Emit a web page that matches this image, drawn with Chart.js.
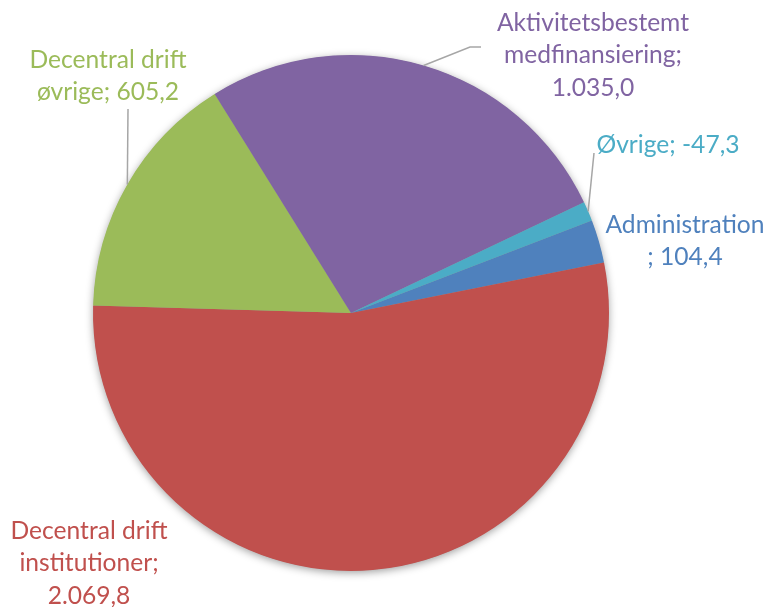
<!DOCTYPE html>
<html>
<head>
<meta charset="utf-8">
<script src="https://cdn.jsdelivr.net/npm/chart.js@4/dist/chart.umd.min.js"></script>
<style>
  html, body { margin: 0; padding: 0; background: #ffffff; }
  #wrap { width: 766px; height: 607px; }
</style>
</head>
<body>
<div id="wrap"><canvas id="c" width="766" height="607"></canvas></div>
<script>
// ---- Data ----
const categories = [
  "Administration",
  "Decentral drift institutioner",
  "Decentral drift øvrige",
  "Aktivitetsbestemt medfinansiering",
  "Øvrige"
];
const values = [104.4, 2069.8, 605.2, 1035.0, -47.3];
const sliceColors = ["#4F81BD", "#C0504D", "#9BBB59", "#8064A2", "#4BACC6"];

// ---- Label layout (annotation placement) ----
const labelLayout = [
  { x: 685, y: 225, maxChars: 14, leader: null },
  { x: 89,  y: 531, maxChars: 15, leader: null },
  { x: 108, y: 60,  maxChars: 15, leader: [[128, 109]] },
  { x: 593, y: 23,  maxChars: 17, leader: [[470, 47], [481, 47]] },
  { x: 668, y: 145, maxChars: 15, leader: [[594, 153]] }
];
const FONT_FAMILY = "Lato, 'Open Sans', sans-serif";
const FONT_SIZE = 24.6;
const LINE_H = 32.5;

function fmtDa(v) {
  const neg = v < 0;
  const s = Math.abs(v).toFixed(1);
  let [ip, dp] = s.split('.');
  ip = ip.replace(/\B(?=(\d{3})+(?!\d))/g, '.');
  return (neg ? '-' : '') + ip + ',' + dp;
}

function wrapLabel(cat, val, maxChars) {
  const tokens = cat.split(' ').map((w, i) => ({ t: w, glue: i === 0 ? '' : ' ' }));
  tokens.push({ t: ';', glue: '' });
  tokens.push({ t: fmtDa(val), glue: ' ' });
  const lines = [];
  let cur = '';
  tokens.forEach(tok => {
    if (cur === '') { cur = tok.t; return; }
    const cand = cur + tok.glue + tok.t;
    if (cand.length > maxChars) { lines.push(cur); cur = tok.t; }
    else cur = cand;
  });
  if (cur) lines.push(cur);
  return lines.map(l => l.replace(/^;(?=\S)/, '; '));
}

const shadowPlugin = {
  id: 'pieShadow',
  beforeDatasetsDraw(chart) {
    const arc = chart.getDatasetMeta(0).data[0];
    if (!arc) return;
    const { x, y, outerRadius } = arc.getProps(['x', 'y', 'outerRadius'], true);
    const ctx = chart.ctx;
    ctx.save();
    ctx.shadowColor = 'rgba(0,0,0,0.40)';
    ctx.shadowBlur = 9;
    ctx.shadowOffsetX = 0;
    ctx.shadowOffsetY = 2;
    ctx.beginPath();
    ctx.arc(x, y, outerRadius - 0.5, 0, Math.PI * 2);
    ctx.fillStyle = '#999999';
    ctx.fill();
    ctx.restore();
  }
};

const labelPlugin = {
  id: 'outsideLabels',
  afterDatasetsDraw(chart) {
    const ctx = chart.ctx;
    const meta = chart.getDatasetMeta(0);
    ctx.save();
    meta.data.forEach((arc, i) => {
      const lay = labelLayout[i];
      const p = arc.getProps(['x', 'y', 'startAngle', 'endAngle', 'outerRadius'], true);
      if (lay.leader) {
        const mid = (p.startAngle + p.endAngle) / 2;
        const sx = p.x + Math.cos(mid) * p.outerRadius;
        const sy = p.y + Math.sin(mid) * p.outerRadius;
        ctx.beginPath();
        ctx.moveTo(sx, sy);
        lay.leader.forEach(pt => ctx.lineTo(pt[0], pt[1]));
        ctx.strokeStyle = '#A6A6A6';
        ctx.lineWidth = 1.5;
        ctx.stroke();
      }
      const lines = wrapLabel(categories[i], values[i], lay.maxChars);
      ctx.font = FONT_SIZE + 'px ' + FONT_FAMILY;
      ctx.fillStyle = sliceColors[i];
      ctx.textAlign = 'center';
      ctx.textBaseline = 'middle';
      lines.forEach((ln, k) => ctx.fillText(ln, lay.x, lay.y + k * LINE_H));
    });
    ctx.restore();
  }
};

new Chart(document.getElementById('c'), {
  type: 'pie',
  data: {
    labels: categories,
    datasets: [{
      data: values,
      backgroundColor: sliceColors,
      borderWidth: 0
    }]
  },
  options: {
    responsive: false,
    devicePixelRatio: 1,
    animation: false,
    rotation: 69,
    layout: { padding: { left: 93, top: 55, right: 157, bottom: 36 } },
    plugins: {
      legend: { display: false },
      tooltip: { enabled: false }
    }
  },
  plugins: [shadowPlugin, labelPlugin]
});
</script>
</body>
</html>
